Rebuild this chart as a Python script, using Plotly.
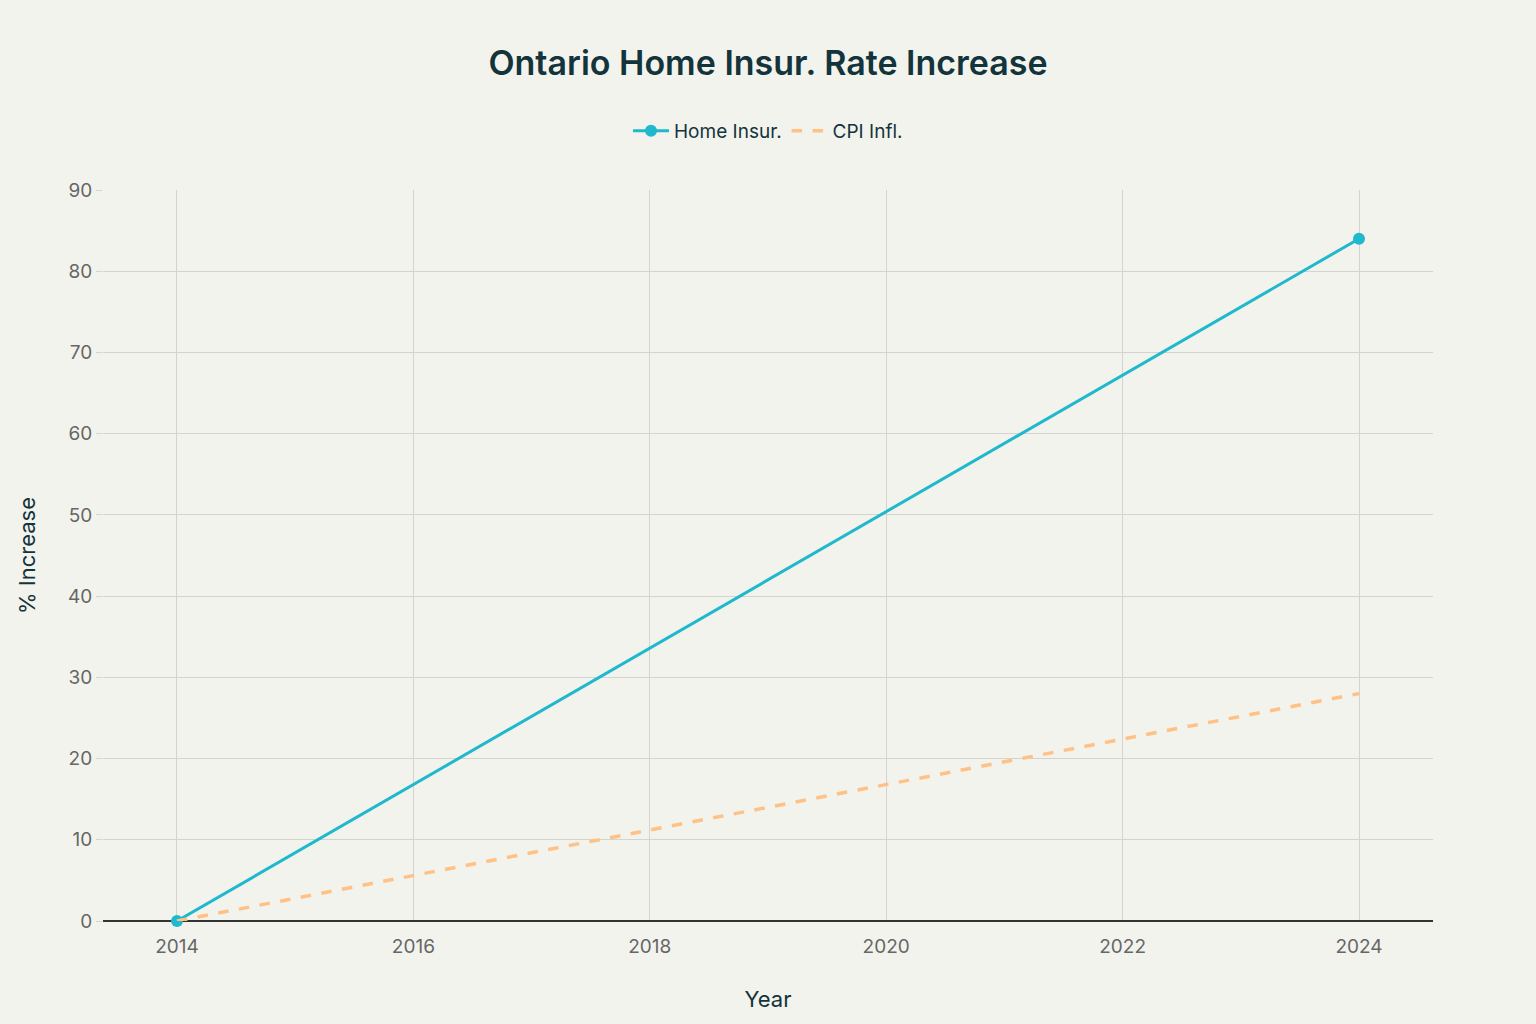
import plotly.graph_objects as go

years = [2014, 2024]
home_insur = [0, 84]
cpi_infl = [0, 28]
x_ticks = [2014, 2016, 2018, 2020, 2022, 2024]

fig = go.Figure()
fig.add_trace(go.Scatter(
    x=years, y=home_insur, name="Home Insur.", mode="lines+markers",
    line=dict(color="#1FB8CD", width=3), marker=dict(size=12, color="#1FB8CD"),
    cliponaxis=False,
))
fig.add_trace(go.Scatter(
    x=years, y=cpi_infl, name="CPI Infl.", mode="lines",
    line=dict(color="#FFC185", width=3.5, dash="dash"),
    cliponaxis=False,
))

fig.update_layout(
    width=1536, height=1024,
    paper_bgcolor="#F3F3EE", plot_bgcolor="#F3F3EE",
    font=dict(family="Inter, Liberation Sans, Arial, sans-serif", size=19, color="#13343B"),
    title=dict(text="Ontario Home Insur. Rate Increase", x=0.5, xanchor="center",
               y=0.938, yanchor="middle",
               font=dict(size=34, color="#13343B", weight=600,
                         family="Inter, Liberation Sans, Arial, sans-serif")),
    legend=dict(orientation="h", x=0.5, xanchor="center", y=1.081, yanchor="middle",
                font=dict(size=19, color="#13343B"), bgcolor="rgba(0,0,0,0)",
                itemwidth=36),
    margin=dict(l=103, r=103, t=190, b=103),
    showlegend=True,
)
fig.update_xaxes(
    title=dict(text="Year", font=dict(size=22, color="#13343B"), standoff=34),
    automargin=False,
    range=[2013.374, 2024.626], tickvals=x_ticks, ticktext=[str(t) for t in x_ticks],
    showgrid=True, gridcolor="#D3D3D0", gridwidth=1, zeroline=False,
    tickfont=dict(size=19, color="#666666"),
    ticks="outside", ticklen=8, tickcolor="rgba(0,0,0,0)", showline=False,
)
fig.update_yaxes(
    title=dict(text="% Increase", font=dict(size=22, color="#13343B"), standoff=26),
    automargin=False,
    range=[0, 90], dtick=10,
    showgrid=True, gridcolor="#D3D3D0", gridwidth=1,
    zeroline=True, zerolinecolor="#333333", zerolinewidth=1.5,
    tickfont=dict(size=19, color="#666666"),
    ticks="outside", ticklen=6, tickcolor="#D3D3D0",
)

fig.write_html("out.html", config={"displayModeBar": False},
               post_script="document.body.style.margin='0';")
